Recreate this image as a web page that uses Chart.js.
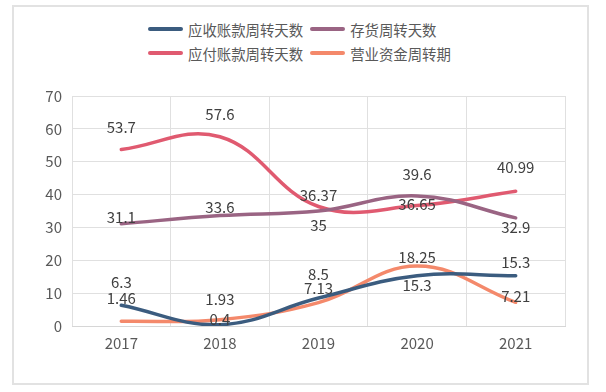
<!DOCTYPE html>
<html>
<head>
<meta charset="utf-8">
<script src="https://cdn.jsdelivr.net/npm/chart.js@4.4.0/dist/chart.umd.min.js"></script>
<style>
  html, body { margin: 0; padding: 0; background: #fff; }
  #wrap { position: relative; width: 606px; height: 392px; }
  #frame {
    position: absolute; left: 12px; top: 5px; width: 573px; height: 376px;
    border: 2px solid #e2e2e2; box-sizing: content-box;
  }
  #legend {
    position: absolute; left: 148px; top: 19px;
    display: grid; grid-template-columns: auto auto; column-gap: 7px; row-gap: 4px;
    font-family: "Noto Sans CJK SC", sans-serif; font-size: 14.4px; color: #595959;
  }
  .item { display: flex; align-items: center; height: 20px; }
  .swatch { width: 35px; height: 4px; border-radius: 2px; margin-right: 5px; }
  canvas { position: absolute; left: 0; top: 0; }
</style>
</head>
<body>
<div id="wrap">
  <div id="frame"></div>
  <div id="legend"></div>
  <canvas id="chart" width="606" height="392"></canvas>
</div>
<script>
// =========================
// Données
// =========================
const years = ["2017", "2018", "2019", "2020", "2021"];
const seriesNames = ["应收账款周转天数", "存货周转天数", "应付账款周转天数", "营业资金周转期"];

const receivableDays = [6.3, 0.4, 8.5, 15.3, 15.3];
const inventoryDays = [31.1, 33.6, 35, 39.6, 32.9];
const payableDays = [53.7, 57.6, 36.37, 36.65, 40.99];
const workingCapitalDays = [1.46, 1.93, 7.13, 18.25, 7.21];

const yTicks = [0, 10, 20, 30, 40, 50, 60, 70];

// Couleurs et position des étiquettes (décalage vertical en px)
const colors = ["#3b5c7f", "#9a6483", "#e05a70", "#f4896b"];
const labelShift = [
  [-23, -5, -24, 10, -13],
  [-7, -8, 14, -22, 9],
  [-22, -22, -11, -1, -24],
  [-23, -20, -14, -9, -6]
];

const allSeries = [receivableDays, inventoryDays, payableDays, workingCapitalDays];

// Légende HTML (2 colonnes comme l'original)
const legendEl = document.getElementById("legend");
[0, 1, 2, 3].forEach(i => {
  legendEl.innerHTML += `<div class="item"><div class="swatch" style="background:${colors[i]}"></div><span>${seriesNames[i]}</span></div>`;
});

// =========================
// Étiquettes de valeurs
// =========================
const valueLabels = {
  id: "valueLabels",
  afterDatasetsDraw(chart) {
    const ctx = chart.ctx;
    ctx.save();
    ctx.font = '15px "Noto Sans CJK SC", sans-serif';
    ctx.fillStyle = "#404040";
    ctx.textAlign = "center";
    ctx.textBaseline = "middle";
    chart.data.datasets.forEach((ds, i) => {
      chart.getDatasetMeta(i).data.forEach((pt, j) => {
        ctx.fillText(String(ds.data[j]), pt.x, pt.y + labelShift[i][j]);
      });
    });
    ctx.restore();
  }
};

new Chart(document.getElementById("chart").getContext("2d"), {
  type: "line",
  data: {
    labels: years,
    datasets: allSeries.map((d, i) => ({
      label: seriesNames[i],
      data: d,
      borderColor: colors[i],
      backgroundColor: colors[i],
      borderWidth: 3.5,
      borderCapStyle: "round",
      pointRadius: 0,
      tension: 0.4,
      fill: false
    }))
  },
  options: {
    responsive: false,
    animation: false,
    layout: { padding: { left: 0, right: 41, top: 96, bottom: 0 } },
    plugins: { legend: { display: false }, tooltip: { enabled: false } },
    scales: {
      x: {
        offset: true,
        grid: { offset: true, color: "#e0e0e0", drawTicks: false },
        border: { color: "#d6d6d6" },
        ticks: { color: "#595959", font: { family: "Noto Sans CJK SC", size: 15 }, padding: 8 },
        afterFit: s => { s.height = 66; }
      },
      y: {
        min: 0, max: 70,
        grid: { color: "#e0e0e0", drawTicks: false },
        border: { display: false },
        afterBuildTicks: s => { s.ticks = yTicks.map(v => ({ value: v })); },
        ticks: { color: "#595959", font: { family: "Noto Sans CJK SC", size: 15 }, padding: 10 },
        afterFit: s => { s.width = 72; }
      }
    }
  },
  plugins: [valueLabels]
});
</script>
</body>
</html>
